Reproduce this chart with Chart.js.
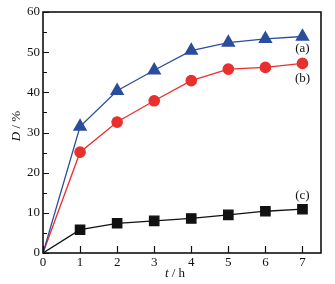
<!DOCTYPE html>
<html><head><meta charset="utf-8">
<script src="https://cdn.jsdelivr.net/npm/chart.js@4/dist/chart.umd.min.js"></script>
<style>html,body{margin:0;padding:0;background:#fff}#w{width:335px;height:284px}</style>
</head><body><div id="w"><canvas id="c"></canvas></div>
<script>
const times = [0, 1, 2, 3, 4, 5, 6, 7];
const seriesA = [0, 31.5, 40.4, 45.5, 50.4, 52.4, 53.3, 53.9];
const seriesB = [0, 25.1, 32.6, 37.9, 42.9, 45.8, 46.2, 47.2];
const seriesC = [0, 5.8, 7.4, 8.0, 8.6, 9.5, 10.4, 10.9];
const seriesLabels = ['(a)', '(b)', '(c)'];
const yTicks = [0, 10, 20, 30, 40, 50, 60];
const xTicks = [0, 1, 2, 3, 4, 5, 6, 7];

const FONT = '"Liberation Serif", "DejaVu Serif", serif';
function pts(arr){ return times.map((t,i)=>({x:t,y:arr[i]})); }

const framePlugin = {
  id:'frame',
  afterDraw(chart){
    const {ctx, chartArea:a, scales} = chart;
    const xs = scales.x, ys = scales.y;
    ctx.save();
    ctx.strokeStyle = '#111';
    ctx.lineWidth = 1.6;
    ctx.strokeRect(a.left, a.top, a.right - a.left, a.bottom - a.top);
    ctx.lineWidth = 1.2;
    ctx.beginPath();
    for (let v = 0; v <= 60; v += 5) {
      const y = Math.round(ys.getPixelForValue(v)) + 0.5;
      const len = (v % 10 === 0) ? 6 : 4;
      ctx.moveTo(a.left, y); ctx.lineTo(a.left + len, y);
    }
    xTicks.forEach(v => {
      const x = Math.round(xs.getPixelForValue(v)) + 0.5;
      ctx.moveTo(x, a.bottom); ctx.lineTo(x, a.bottom - 7);
    });
    ctx.stroke();
    ctx.fillStyle = '#111';
    ctx.font = '13px ' + FONT;
    ctx.textAlign = 'center'; ctx.textBaseline = 'middle';
    const lx = xs.getPixelForValue(7);
    ctx.fillText(seriesLabels[0], lx, ys.getPixelForValue(50.8));
    ctx.fillText(seriesLabels[1], lx, ys.getPixelForValue(43.4));
    ctx.fillText(seriesLabels[2], lx, ys.getPixelForValue(14.2));
    ctx.font = 'italic 13px ' + FONT;
    const t1 = 't', t2 = ' / h';
    const w1 = ctx.measureText(t1).width;
    ctx.font = '13px ' + FONT;
    const w2 = ctx.measureText(t2).width;
    let sx = 175 - (w1 + w2)/2;
    const ty = 274;
    ctx.textAlign = 'left';
    ctx.font = 'italic 13px ' + FONT; ctx.fillText(t1, sx, ty);
    ctx.font = '13px ' + FONT; ctx.fillText(t2, sx + w1, ty);
    ctx.save();
    ctx.translate(17, 126);
    ctx.rotate(-Math.PI/2);
    ctx.font = 'italic 13px ' + FONT;
    const d1 = 'D', d2 = ' / %';
    const dw1 = ctx.measureText(d1).width;
    ctx.font = '13px ' + FONT;
    const dw2 = ctx.measureText(d2).width;
    const dx = -(dw1 + dw2)/2;
    ctx.font = 'italic 13px ' + FONT; ctx.fillText(d1, dx, 0);
    ctx.font = '13px ' + FONT; ctx.fillText(d2, dx + dw1, 0);
    ctx.restore();
    ctx.restore();
  }
};

new Chart(document.getElementById('c'), {
  type: 'line',
  data: {
    datasets: [
      {data: pts(seriesA), borderColor:'#2a4d9c', backgroundColor:'#2a4d9c', pointStyle:'triangle',
       pointRadius:(c)=>c.dataIndex===0?0:7, borderWidth:1.3},
      {data: pts(seriesB), borderColor:'#e8302e', backgroundColor:'#e8302e', pointStyle:'circle',
       pointRadius:(c)=>c.dataIndex===0?0:5.2, borderWidth:1.3},
      {data: pts(seriesC), borderColor:'#111', backgroundColor:'#111', pointStyle:'rect',
       pointRadius:(c)=>c.dataIndex===0?0:6.6, borderWidth:1.3}
    ]
  },
  options: {
    responsive: true, maintainAspectRatio: false, animation: false,
    layout: {padding: {top: 12, right: 14, left: 0, bottom: 0}},
    plugins: {legend:{display:false}, tooltip:{enabled:false}},
    elements: {line:{tension:0}, point:{borderWidth:0}},
    scales: {
      x: {type:'linear', min:0, max:7.5,
          afterBuildTicks(s){ s.ticks = xTicks.map(v=>({value:v})); },
          afterFit(s){ s.height = 31; },
          grid:{display:false, drawTicks:false, tickLength:0}, border:{display:false},
          ticks:{font:{family:FONT, size:13}, color:'#111', padding:2, maxRotation:0}},
      y: {min:0, max:60,
          afterBuildTicks(s){ s.ticks = yTicks.map(v=>({value:v})); },
          afterFit(s){ s.width = 43; },
          grid:{display:false, drawTicks:false, tickLength:0}, border:{display:false},
          ticks:{font:{family:FONT, size:13}, color:'#111', padding:3}}
    }
  },
  plugins: [framePlugin]
});
</script>
</body></html>
